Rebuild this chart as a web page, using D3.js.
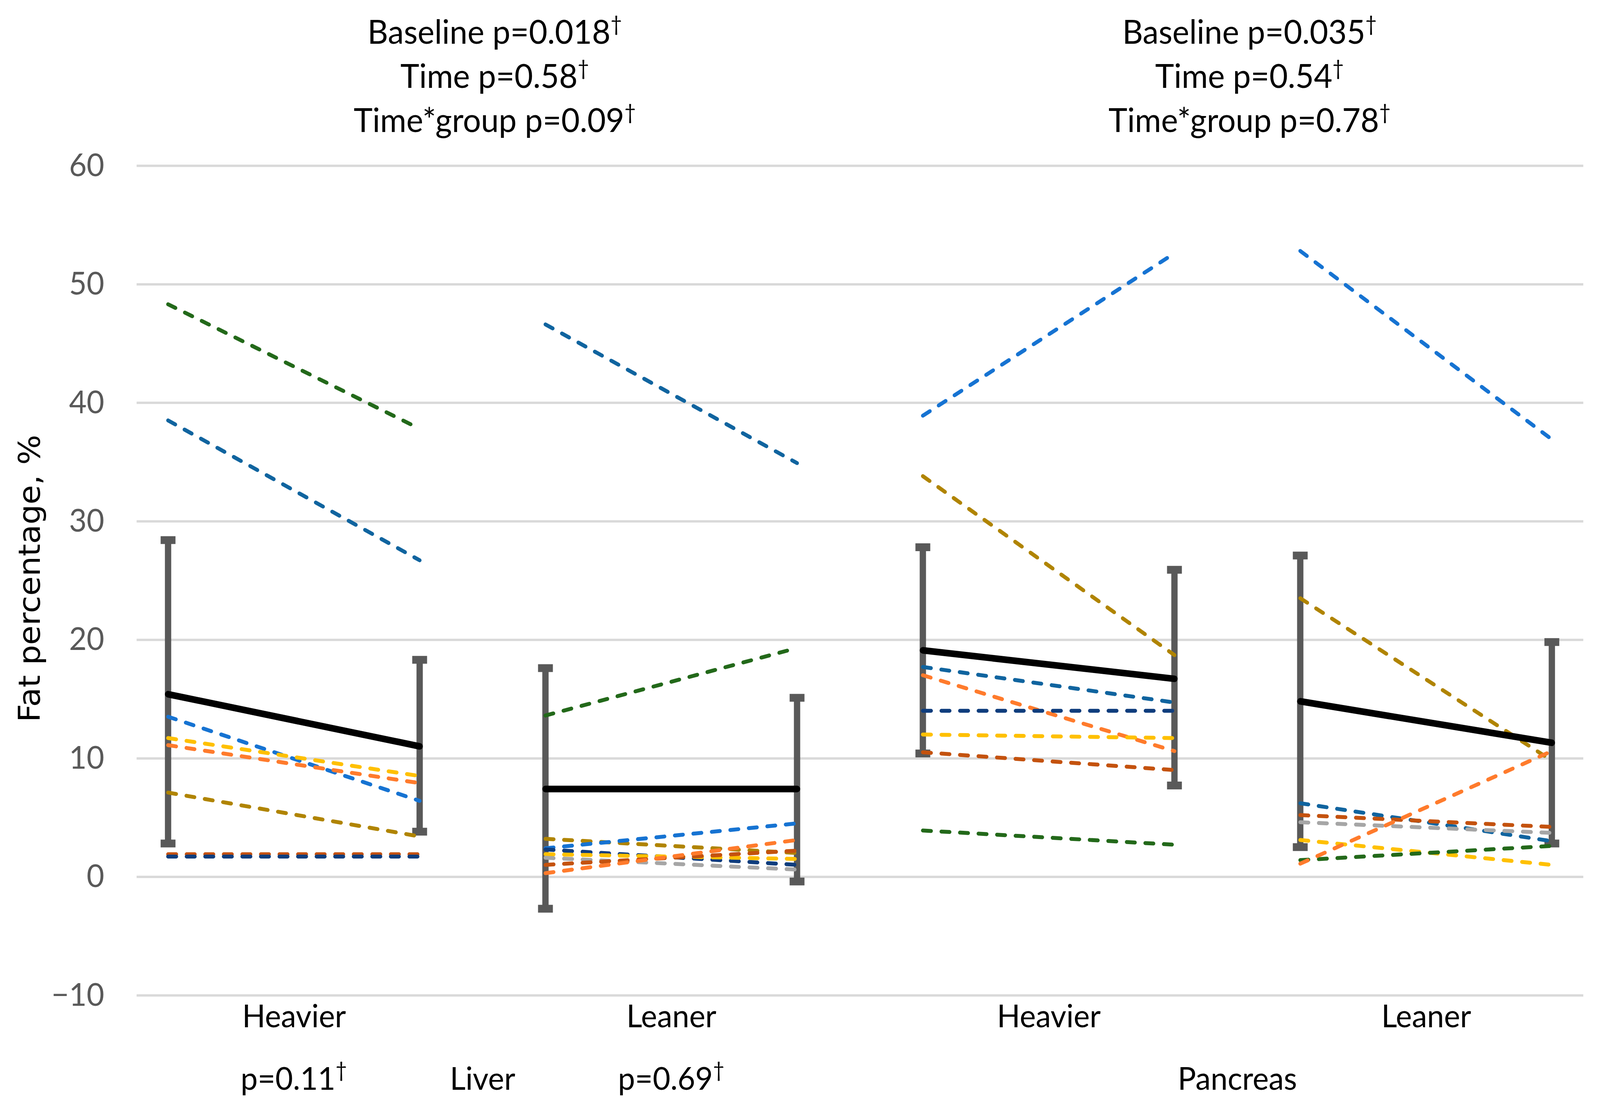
<!DOCTYPE html>
<html>
<head>
<meta charset="utf-8">
<script src="https://cdn.jsdelivr.net/npm/d3@7"></script>
<style>
  html, body { margin: 0; padding: 0; background: #fff; overflow: hidden; }
  svg { display: block; width: 100vw; height: 100vh; }
</style>
</head>
<body>
<svg></svg>
<script>
// ---- data ----
var groupLabels = ['Heavier', 'Leaner', 'Heavier', 'Leaner'];
var groupPValues = ['p=0.11', 'p=0.69', '', ''];
var organs = ['Liver', 'Pancreas'];
var liverStats = ['Baseline p=0.018', 'Time p=0.58', 'Time*group p=0.09'];
var pancreasStats = ['Baseline p=0.035', 'Time p=0.54', 'Time*group p=0.78'];
var yTicks = [-10, 0, 10, 20, 30, 40, 50, 60];

// group means (baseline, follow-up) and error bar ends
var meanBaseline = [15.4, 7.4, 19.1, 14.8];
var meanFollowup = [11.0, 7.4, 16.7, 11.3];
var errBaseHigh = [28.4, 17.6, 27.8, 27.1];
var errBaseLow = [2.8, -2.7, 10.4, 2.5];
var errFollowHigh = [18.3, 15.1, 25.9, 19.8];
var errFollowLow = [3.8, -0.4, 7.7, 2.8];

// individual participants: [colour key, baseline, follow-up]
var liverHeavier = [
  ['green', 48.3, 37.8], ['teal', 38.5, 26.7], ['blue', 13.5, 6.4],
  ['yellow', 11.7, 8.5], ['orange', 11.1, 7.9], ['gold', 7.1, 3.4],
  ['brown', 1.9, 1.9], ['navy', 1.7, 1.7]
];
var liverLeaner = [
  ['teal', 46.6, 34.9], ['green', 13.6, 19.3], ['gold', 3.2, 2.0],
  ['blue', 2.4, 4.5], ['navy', 2.3, 1.0], ['yellow', 1.9, 1.5],
  ['gray', 1.6, 0.6], ['brown', 1.0, 2.2], ['orange', 0.3, 3.1]
];
var pancreasHeavier = [
  ['blue', 38.9, 52.6], ['gold', 33.8, 18.7], ['teal', 17.7, 14.7],
  ['orange', 17.0, 10.6], ['navy', 14.0, 14.0], ['yellow', 12.0, 11.7],
  ['brown', 10.5, 9.0], ['green', 3.9, 2.7]
];
var pancreasLeaner = [
  ['blue', 52.8, 36.9], ['gold', 23.5, 9.8], ['teal', 6.2, 3.0],
  ['brown', 5.2, 4.2], ['gray', 4.6, 3.7], ['yellow', 3.1, 1.0],
  ['green', 1.4, 2.6], ['orange', 1.1, 10.6]
];
var individuals = [liverHeavier, liverLeaner, pancreasHeavier, pancreasLeaner];

var palette = {
  blue: '#1673d2', teal: '#10649f', navy: '#0f3d7d', green: '#23691a',
  gold: '#b08400', yellow: '#ffc000', orange: '#ff7b2c', brown: '#c4520e',
  gray: '#a6a6a6'
};

// ---- layout ----
var W = 4310, H = 2829;
var plot = {left: 368, right: 4265, top: 424, bottom: 2548};
var FONT = 'Lato, "Open Sans", sans-serif';
var TEXT_SIZE = '86px';
var CAT_SIZE = '82px';

// viewBox stretched over the viewport so the figure fills the frame
var svg = d3.select('svg')
  .attr('viewBox', '0 0 ' + W + ' ' + H)
  .attr('preserveAspectRatio', 'none');

var x = d3.scalePoint()
  .domain(d3.range(12))
  .range([plot.left, plot.right])
  .padding(0.25);
var y = d3.scaleLinear().domain([-10, 60]).range([plot.bottom, plot.top]);

// y axis with gridlines
var yAxis = svg.append('g')
  .attr('transform', 'translate(' + plot.left + ',0)')
  .call(d3.axisLeft(y).tickValues(yTicks).tickSize(-(plot.right - plot.left)).tickPadding(87));
yAxis.select('.domain').remove();
yAxis.selectAll('.tick line').attr('stroke', '#d9d9d9').attr('stroke-width', 6);
yAxis.selectAll('.tick text')
  .attr('fill', '#595959')
  .style('font-family', FONT)
  .style('font-size', '82px');

// category labels
var xAxis = svg.append('g')
  .attr('transform', 'translate(0,' + plot.bottom + ')')
  .call(d3.axisBottom(x)
    .tickValues([1, 4, 7, 10])
    .tickFormat(function(d) { return groupLabels[(d - 1) / 3]; })
    .tickSize(0).tickPadding(24));
xAxis.select('.domain').remove();
xAxis.selectAll('.tick text')
  .attr('fill', '#000')
  .style('font-family', FONT)
  .style('font-size', CAT_SIZE);

// text helper with superscript dagger
var addLabel = function addLabel(txt, cx, cy, size) {
  var t = svg.append('text')
    .attr('x', cx).attr('y', cy)
    .attr('text-anchor', 'middle')
    .style('font-family', FONT)
    .style('font-size', size)
    .attr('fill', '#000')
    .text(txt);
  t.append('tspan').attr('dy', -32).style('font-size', '54px').text('\u2020');
};

groupPValues.forEach(function(p, i) {
  if (p) addLabel(p, x(3 * i + 1), 2790, CAT_SIZE);
});
organs.forEach(function(o, i) {
  svg.append('text')
    .attr('x', (x(6 * i) + x(6 * i + 5)) / 2)
    .attr('y', 2790)
    .attr('text-anchor', 'middle')
    .style('font-family', FONT)
    .style('font-size', CAT_SIZE)
    .attr('fill', '#000')
    .text(o);
});

[liverStats, pancreasStats].forEach(function(lines, i) {
  var cx = (x(6 * i) + x(6 * i + 5)) / 2 + 33;
  lines.forEach(function(s, j) {
    addLabel(s, cx, 112 + j * 113, TEXT_SIZE);
  });
});

// y axis title
svg.append('text')
  .attr('transform', 'translate(107,1481) rotate(-90)')
  .attr('text-anchor', 'middle')
  .style('font-family', '"DejaVu Sans", sans-serif')
  .style('font-size', '81px')
  .attr('fill', '#000')
  .text('Fat percentage, %');

// error bars
var bars = [];
groupLabels.forEach(function(g, i) {
  bars.push({xi: 3 * i, lo: errBaseLow[i], hi: errBaseHigh[i]});
  bars.push({xi: 3 * i + 2, lo: errFollowLow[i], hi: errFollowHigh[i]});
});
var $bars = svg.append('g').selectAll('g').data(bars).enter().append('g');
$bars.append('line')
  .attr('x1', function(d) { return x(d.xi); })
  .attr('x2', function(d) { return x(d.xi); })
  .attr('y1', function(d) { return y(d.lo); })
  .attr('y2', function(d) { return y(d.hi); })
  .attr('stroke', '#595959').attr('stroke-width', 17);
['lo', 'hi'].forEach(function(k) {
  $bars.append('line')
    .attr('x1', function(d) { return x(d.xi) - 20; })
    .attr('x2', function(d) { return x(d.xi) + 20; })
    .attr('y1', function(d) { return y(d[k]); })
    .attr('y2', function(d) { return y(d[k]); })
    .attr('stroke', '#595959').attr('stroke-width', 20);
});

// individual dashed lines
var line = d3.line()
  .x(function(d) { return x(d[0]); })
  .y(function(d) { return y(d[1]); });

var indivRows = [];
individuals.forEach(function(rows, i) {
  rows.forEach(function(r) {
    indivRows.push({color: palette[r[0]], pts: [[3 * i, r[1]], [3 * i + 2, r[2]]]});
  });
});
svg.append('g').selectAll('path').data(indivRows).enter().append('path')
  .attr('d', function(d) { return line(d.pts); })
  .attr('fill', 'none')
  .attr('stroke', function(d) { return d.color; })
  .attr('stroke-width', 10)
  .attr('stroke-linecap', 'round')
  .attr('stroke-dasharray', '22,28');

// group means
var meanRows = groupLabels.map(function(g, i) {
  return [[3 * i, meanBaseline[i]], [3 * i + 2, meanFollowup[i]]];
});
svg.append('g').selectAll('path').data(meanRows).enter().append('path')
  .attr('d', line)
  .attr('fill', 'none')
  .attr('stroke', '#000')
  .attr('stroke-width', 17)
  .attr('stroke-linecap', 'round');
</script>
</body>
</html>
